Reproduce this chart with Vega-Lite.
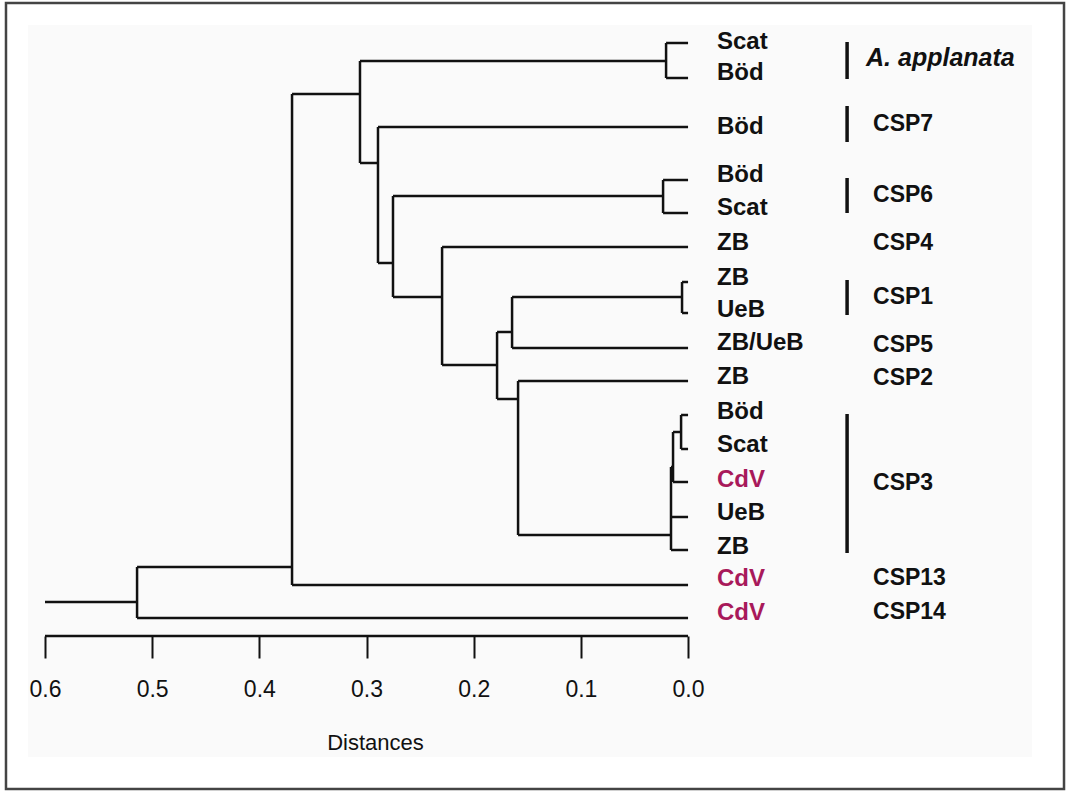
{
  "$schema": "https://vega.github.io/schema/vega-lite/v6.json",
  "width": 986,
  "height": 636,
  "autosize": {"type": "none"},
  "padding": {"left": 45, "top": 0, "right": 37, "bottom": 155},
  "background": "white",
  "config": {
    "view": {"stroke": null}
  },
  "datasets": {
    "segs": [
      {"x1": 0, "x2": 0.0205, "y1": 4.3, "y2": 4.3},
      {"x1": 0, "x2": 0.0205, "y1": 7.8, "y2": 7.8},
      {"x1": 0.0205, "x2": 0.0205, "y1": 4.3, "y2": 7.8},
      {"x1": 0.0205, "x2": 0.3061, "y1": 6.1, "y2": 6.1},
      {"x1": 0, "x2": 0.2893, "y1": 12.7, "y2": 12.7},
      {"x1": 0.3061, "x2": 0.3061, "y1": 6.1, "y2": 16.3},
      {"x1": 0.2893, "x2": 0.3061, "y1": 16.3, "y2": 16.3},
      {"x1": 0.3061, "x2": 0.3695, "y1": 9.4, "y2": 9.4},
      {"x1": 0.2893, "x2": 0.2893, "y1": 12.7, "y2": 26.3},
      {"x1": 0.2753, "x2": 0.2893, "y1": 26.3, "y2": 26.3},
      {"x1": 0, "x2": 0.0233, "y1": 18.0, "y2": 18.0},
      {"x1": 0, "x2": 0.0233, "y1": 21.3, "y2": 21.3},
      {"x1": 0.0233, "x2": 0.0233, "y1": 18.0, "y2": 21.3},
      {"x1": 0.0233, "x2": 0.2753, "y1": 19.6, "y2": 19.6},
      {"x1": 0.2753, "x2": 0.2753, "y1": 19.6, "y2": 29.7},
      {"x1": 0.2295, "x2": 0.2753, "y1": 29.7, "y2": 29.7},
      {"x1": 0, "x2": 0.2295, "y1": 24.7, "y2": 24.7},
      {"x1": 0.2295, "x2": 0.2295, "y1": 24.7, "y2": 36.5},
      {"x1": 0.1782, "x2": 0.2295, "y1": 36.5, "y2": 36.5},
      {"x1": 0, "x2": 0.0056, "y1": 28.2, "y2": 28.2},
      {"x1": 0, "x2": 0.0056, "y1": 31.3, "y2": 31.3},
      {"x1": 0.0056, "x2": 0.0056, "y1": 28.2, "y2": 31.3},
      {"x1": 0.0056, "x2": 0.1642, "y1": 29.7, "y2": 29.7},
      {"x1": 0, "x2": 0.1642, "y1": 34.8, "y2": 34.8},
      {"x1": 0.1642, "x2": 0.1642, "y1": 29.7, "y2": 34.8},
      {"x1": 0.1642, "x2": 0.1782, "y1": 33.2, "y2": 33.2},
      {"x1": 0.1782, "x2": 0.1782, "y1": 33.2, "y2": 39.9},
      {"x1": 0.1586, "x2": 0.1782, "y1": 39.9, "y2": 39.9},
      {"x1": 0, "x2": 0.1586, "y1": 38.1, "y2": 38.1},
      {"x1": 0.1586, "x2": 0.1586, "y1": 38.1, "y2": 53.5},
      {"x1": 0.0159, "x2": 0.1586, "y1": 53.5, "y2": 53.5},
      {"x1": 0, "x2": 0.0065, "y1": 41.5, "y2": 41.5},
      {"x1": 0, "x2": 0.0065, "y1": 44.9, "y2": 44.9},
      {"x1": 0.0065, "x2": 0.0065, "y1": 41.5, "y2": 44.9},
      {"x1": 0.0065, "x2": 0.014, "y1": 43.2, "y2": 43.2},
      {"x1": 0, "x2": 0.014, "y1": 48.2, "y2": 48.2},
      {"x1": 0.014, "x2": 0.014, "y1": 43.2, "y2": 48.2},
      {"x1": 0.014, "x2": 0.0159, "y1": 46.7, "y2": 46.7},
      {"x1": 0, "x2": 0.0159, "y1": 51.7, "y2": 51.7},
      {"x1": 0, "x2": 0.0159, "y1": 55.0, "y2": 55.0},
      {"x1": 0.0159, "x2": 0.0159, "y1": 46.7, "y2": 55.0},
      {"x1": 0, "x2": 0.3695, "y1": 58.5, "y2": 58.5},
      {"x1": 0.3695, "x2": 0.3695, "y1": 9.4, "y2": 58.5},
      {"x1": 0.3695, "x2": 0.5141, "y1": 56.7, "y2": 56.7},
      {"x1": 0, "x2": 0.5141, "y1": 61.8, "y2": 61.8},
      {"x1": 0.5141, "x2": 0.5141, "y1": 56.7, "y2": 61.8},
      {"x1": 0.5141, "x2": 0.6, "y1": 60.2, "y2": 60.2}
    ],
    "leaves": [
      {"label": "Scat", "pos": 4.2},
      {"label": "Böd", "pos": 7.3},
      {"label": "Böd", "pos": 12.7},
      {"label": "Böd", "pos": 17.5},
      {"label": "Scat", "pos": 20.8},
      {"label": "ZB", "pos": 24.3},
      {"label": "ZB", "pos": 27.8},
      {"label": "UeB", "pos": 31.0},
      {"label": "ZB/UeB", "pos": 34.3},
      {"label": "ZB", "pos": 37.7},
      {"label": "Böd", "pos": 41.2},
      {"label": "Scat", "pos": 44.5},
      {"label": "CdV", "pos": 48.0},
      {"label": "UeB", "pos": 51.3},
      {"label": "ZB", "pos": 54.7},
      {"label": "CdV", "pos": 57.9},
      {"label": "CdV", "pos": 61.3}
    ],
    "groups": [
      {"group": "A. applanata", "pos": 5.8, "italic": true},
      {"group": "CSP7", "pos": 12.4, "italic": false},
      {"group": "CSP6", "pos": 19.5, "italic": false},
      {"group": "CSP4", "pos": 24.3, "italic": false},
      {"group": "CSP1", "pos": 29.7, "italic": false},
      {"group": "CSP5", "pos": 34.5, "italic": false},
      {"group": "CSP2", "pos": 37.8, "italic": false},
      {"group": "CSP3", "pos": 48.3, "italic": false},
      {"group": "CSP13", "pos": 57.8, "italic": false},
      {"group": "CSP14", "pos": 61.2, "italic": false}
    ],
    "bars": [
      {"group": "A. applanata", "y1": 4.2, "y2": 7.9},
      {"group": "CSP7", "y1": 10.6, "y2": 14.2},
      {"group": "CSP6", "y1": 17.8, "y2": 21.3},
      {"group": "CSP1", "y1": 28.0, "y2": 31.5},
      {"group": "CSP3", "y1": 41.4, "y2": 55.3}
    ]
  },
  "layer": [
    {
      "data": {"values": [{}]},
      "mark": {"type": "rect", "fill": "#fafafa"},
      "encoding": {
        "x": {"datum": 0.6158, "type": "quantitative", "scale": {"domain": [0.6, -0.32], "nice": false, "zero": false}, "title": "Distances",
          "axis": {"values": [0.6, 0.5, 0.4, 0.3, 0.2, 0.1, 0], "format": ".1f", "zindex": 2,
            "domain": false, "grid": false, "ticks": true, "tickSize": 22, "tickWidth": 2, "tickColor": "#111",
            "labelFontSize": 23, "labelFont": "Liberation Sans", "labelColor": "#111", "labelPadding": 20,
            "labelFlush": false, "labelOverlap": false,
            "titleFontSize": 22, "titleFontWeight": "normal", "titleFont": "Liberation Sans", "titleColor": "#111",
            "titleX": 330, "titleY": 106, "titleBaseline": "middle", "titleAlign": "center"}},
        "x2": {"datum": -0.321},
        "y": {"datum": 2.5, "type": "quantitative", "scale": {"domain": [0, 63.6], "reverse": true, "nice": false, "zero": false}, "axis": null},
        "y2": {"datum": 75.7}
      }
    },
    {
      "data": {"values": [{}]},
      "mark": {"type": "rect", "filled": false, "stroke": "#444", "strokeWidth": 2.5},
      "encoding": {
        "x": {"datum": 0.6364, "type": "quantitative", "title": "Distances"},
        "x2": {"datum": -0.3508},
        "y": {"datum": 0.3, "type": "quantitative", "axis": null},
        "y2": {"datum": 78.9}
      }
    },
    {
      "data": {"name": "segs"},
      "mark": {"type": "rule", "stroke": "#111", "strokeWidth": 2.5},
      "encoding": {
        "x": {"field": "x1", "type": "quantitative", "title": "Distances"},
        "x2": {"field": "x2"},
        "y": {"field": "y1", "type": "quantitative", "axis": null},
        "y2": {"field": "y2"}
      }
    },
    {
      "data": {"values": [{}]},
      "mark": {"type": "rule", "stroke": "#111", "strokeWidth": 2.5},
      "encoding": {
        "x": {"datum": 0.6, "type": "quantitative", "title": "Distances"},
        "x2": {"datum": 0},
        "y": {"datum": 63.6, "type": "quantitative", "axis": null}
      }
    },
    {
      "data": {"name": "leaves"},
      "mark": {"type": "text", "align": "left", "baseline": "middle", "font": "Liberation Sans", "fontWeight": "bold", "fontSize": 24},
      "encoding": {
        "x": {"datum": -0.027, "type": "quantitative", "title": "Distances"},
        "y": {"field": "pos", "type": "quantitative", "axis": null},
        "text": {"field": "label"},
        "color": {"condition": {"test": "datum.label === 'CdV'", "value": "#a8195a"}, "value": "#111"}
      }
    },
    {
      "data": {"name": "bars"},
      "mark": {"type": "rule", "stroke": "#111", "strokeWidth": 3.5},
      "encoding": {
        "x": {"datum": -0.1484, "type": "quantitative", "title": "Distances"},
        "y": {"field": "y1", "type": "quantitative", "axis": null},
        "y2": {"field": "y2"}
      }
    },
    {
      "data": {"name": "groups"},
      "transform": [{"filter": "!datum.italic"}],
      "mark": {"type": "text", "align": "left", "baseline": "middle", "font": "Liberation Sans", "fontWeight": "bold", "fontSize": 23, "color": "#111"},
      "encoding": {
        "x": {"datum": -0.1726, "type": "quantitative", "title": "Distances"},
        "y": {"field": "pos", "type": "quantitative", "axis": null},
        "text": {"field": "group"}
      }
    },
    {
      "data": {"name": "groups"},
      "transform": [{"filter": "datum.italic"}],
      "mark": {"type": "text", "align": "left", "baseline": "middle", "font": "Liberation Sans", "fontWeight": "bold", "fontStyle": "italic", "fontSize": 25, "color": "#111"},
      "encoding": {
        "x": {"datum": -0.1661, "type": "quantitative", "title": "Distances"},
        "y": {"field": "pos", "type": "quantitative", "axis": null},
        "text": {"field": "group"}
      }
    }
  ]
}
